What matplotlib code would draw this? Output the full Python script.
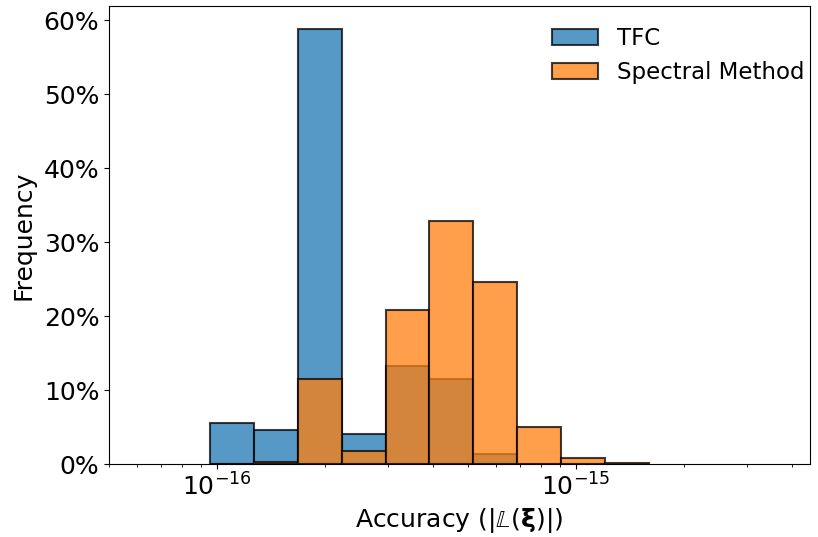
import numpy as np
import matplotlib
matplotlib.use("Agg")
import matplotlib.pyplot as plt
from matplotlib.ticker import PercentFormatter, MultipleLocator

# Log-spaced bin edges (exponents of 10)
edge_exp_lo = -16.0195
edge_exp_hi = -14.797
n_bins = 10

# Share of runs in each bin (percent)
tfc = [5.5, 4.6, 58.8, 4.05, 13.2, 11.5, 1.4, 0.0, 0.0, 0.0]
spectral = [0.0, 0.32, 11.5, 1.8, 20.8, 32.9, 24.6, 5.0, 0.83, 0.1]
series_labels = ["TFC", "Spectral Method"]

edges = np.logspace(edge_exp_lo, edge_exp_hi, n_bins + 1)
widths = np.diff(edges)

fig = plt.figure(figsize=(8.18, 5.37), dpi=100)
ax = fig.add_axes([0.1333, 0.1359, 0.8570, 0.8529])

ax.bar(edges[:-1], tfc, width=widths, align="edge", color="#1f77b4",
       alpha=0.75, edgecolor="black", linewidth=1.5, label=series_labels[0])
ax.bar(edges[:-1], spectral, width=widths, align="edge", color="#ff7f0e",
       alpha=0.75, edgecolor="black", linewidth=1.5, label=series_labels[1])

ax.set_xscale("log")
ax.set_xlim(5e-17, 4.49e-15)
ax.set_ylim(0, 61.95)
ax.yaxis.set_major_locator(MultipleLocator(10))
ax.yaxis.set_major_formatter(PercentFormatter(xmax=100, decimals=0))

ax.tick_params(axis="both", which="major", labelsize=18)
ax.set_xlabel(r"Accuracy ($|\mathbb{L}(\mathbf{\xi})|$)", fontsize=18)
ax.set_ylabel("Frequency", fontsize=18, labelpad=6)

ax.legend(fontsize=16.5, frameon=False, loc="upper right",
          bbox_to_anchor=(1.021, 1.0))

fig.savefig("out.png", dpi=100)
